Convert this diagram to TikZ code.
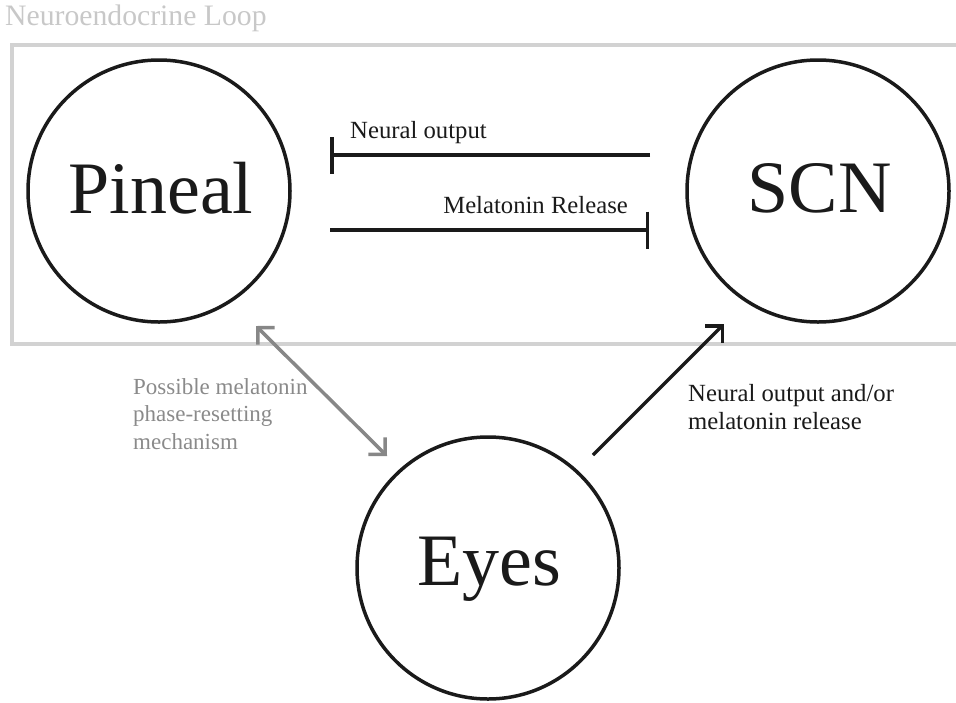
\documentclass[tikz,border=0pt]{standalone}
\usepackage{fontspec}
\setmainfont{Liberation Serif}
\usetikzlibrary{arrows.meta}
\definecolor{boxgray}{HTML}{D2D2D2}
\definecolor{titlegray}{HTML}{C8C8C8}
\definecolor{arrowgray}{HTML}{878787}
\definecolor{labelgray}{HTML}{8A8A8A}
\definecolor{ink}{HTML}{1A1A1A}
\tikzset{
  organ/.style={circle, draw=ink, line width=3.5pt, minimum size=262pt, inner sep=0pt},
  organtext/.style={anchor=base, inner sep=0pt, text=ink, font=\fontsize{74}{80}\selectfont},
  lbl/.style={inner sep=0pt, text=ink, font=\fontsize{24.7}{28}\selectfont},
  glbl/.style={inner sep=0pt, text=labelgray, font=\fontsize{23}{27.5}\selectfont, align=left},
  inhib/.style={draw=ink, line width=3.5pt},
  barbhead/.style={-{Straight Barb[length=12pt,width=24pt]}},
}
\begin{document}
\begin{tikzpicture}[x=1pt,y=-1pt]
\useasboundingbox (0,0) rectangle (956,702);
% title and frame
\node[anchor=base west, inner sep=0pt, text=titlegray, font=\fontsize{29.7}{33}\selectfont] (title) at (5,25) {Neuroendocrine Loop};
\draw[boxgray, line width=4pt] (970,44.5) -- (12,44.5) -- (12,344) -- (970,344);
% organs
\node[organ] (pineal) at (159,191) {};
\node[organ] (scn) at (818,191) {};
\node[organ] (eyes) at (488,568) {};
\node[organtext] (pinealt) at (161,213) {Pineal};
\node[organtext] (scnt) at (819.5,212) {SCN};
\node[organtext] (eyest) at (489,585) {Eyes};
% endpoints
\coordinate (noA) at (650,155);
\coordinate (noB) at (330,155);
\coordinate (mrA) at (330,230);
\coordinate (mrB) at (649,230);
\coordinate (gA) at (256,326);
\coordinate (gB) at (387,456);
\coordinate (bA) at (593,455);
\coordinate (bB) at (724,324);
% inhibitory connectors
\draw[inhib, -{Bar[width=37pt,line width=3.5pt]}] (noA) -- (noB);
\draw[inhib, -{Bar[width=37pt,line width=3.5pt]}] (mrA) -- (mrB);
\node[lbl, anchor=base west] (nol) at (350,138) {Neural output};
\node[lbl, anchor=base east] (mrl) at (628,213) {Melatonin Release};
% eye connectors
\draw[arrowgray, line width=3.5pt, {Straight Barb[length=12pt,width=24pt]}-{Straight Barb[length=12pt,width=24pt]}] (gA) -- (gB);
\draw[ink, line width=3.5pt, barbhead] (bA) -- (bB);
\node[glbl, anchor=north west] (gl) at (133,378) {Possible melatonin\\phase-resetting\\mechanism};
\node[lbl, align=left, anchor=north west] (bl) at (688,384) {Neural output and/or\\melatonin release};
\end{tikzpicture}
\end{document}
